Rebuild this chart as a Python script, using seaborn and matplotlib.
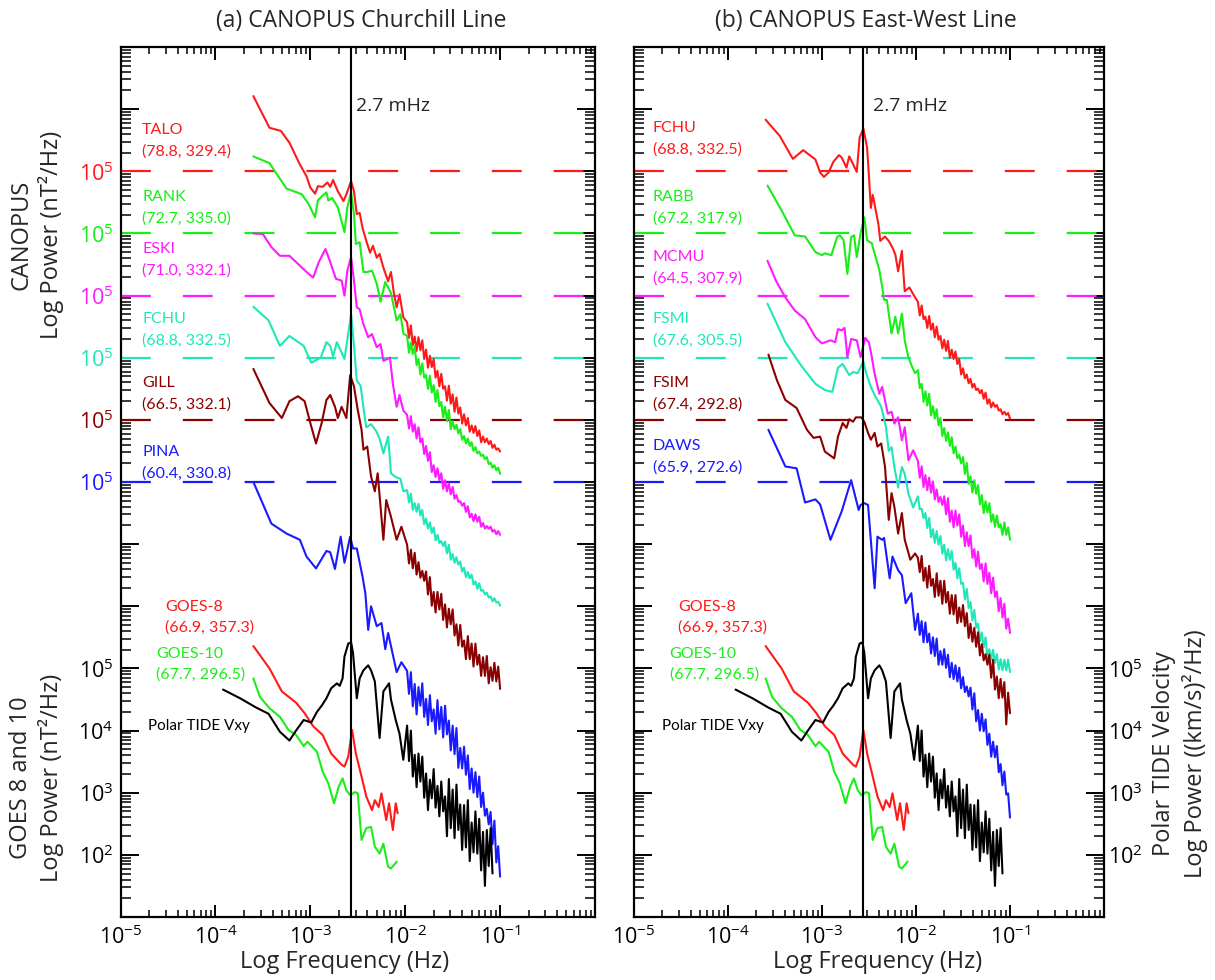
import numpy as np
import pandas as pd
import matplotlib
matplotlib.use('Agg')
import matplotlib.pyplot as plt
from matplotlib.ticker import LogLocator, NullFormatter
import seaborn as sns

# ---- data: log10 frequency (Hz) and log10 power ----
# shared high-frequency grid for the noisy tails
tail_lf = [-1.98, -1.96, -1.94, -1.92, -1.90, -1.88, -1.86, -1.84, -1.82, -1.80,
           -1.78, -1.76, -1.74, -1.72, -1.70, -1.68, -1.66, -1.64, -1.62, -1.60,
           -1.58, -1.56, -1.54, -1.52, -1.50, -1.48, -1.46, -1.44, -1.42, -1.40,
           -1.38, -1.36, -1.34, -1.32, -1.30, -1.28, -1.26, -1.24, -1.22, -1.20,
           -1.18, -1.16, -1.14, -1.12, -1.10, -1.08, -1.06, -1.04, -1.02, -1.00]

# (a) Churchill line
talo_lf = [-3.60, -3.43, -3.31, -3.22, -3.11, -3.04, -3.00, -2.95, -2.92, -2.87, -2.82, -2.79, -2.76, -2.71, -2.65, -2.62, -2.57,
           -2.54, -2.51, -2.48, -2.45, -2.41, -2.37, -2.34, -2.30, -2.27, -2.23, -2.18, -2.15, -2.12, -2.09, -2.06, -2.02]
talo_lp = [6.21, 5.70, 5.65, 5.46, 5.11, 4.92, 4.74, 4.64, 4.76, 4.75, 4.82, 4.75, 4.86, 4.68, 4.52, 4.63, 4.84,
           4.68, 4.31, 4.33, 4.09, 3.88, 3.69, 3.80, 3.61, 3.67, 3.45, 3.23, 3.38, 3.05, 2.81, 3.02, 2.65]
talo_tail = [2.57, 2.32, 2.52, 2.20, 2.34, 2.11, 2.33, 2.12, 2.28, 1.98, 2.13, 1.84, 2.03, 1.85, 1.98, 1.68, 1.79,
             1.54, 1.74, 1.50, 1.54, 1.31, 1.55, 1.26, 1.41, 1.13, 1.36, 1.10, 1.20, 0.94, 1.09, 0.91, 1.03,
             0.81, 0.91, 0.79, 0.90, 0.74, 0.83, 0.64, 0.73, 0.64, 0.70, 0.61, 0.66, 0.55, 0.60, 0.52, 0.54, 0.49]

rank_lf = [-3.60, -3.43, -3.25, -3.14, -3.09, -3.02, -2.95, -2.92, -2.87, -2.83, -2.81, -2.77, -2.71, -2.64, -2.61,
           -2.57, -2.54, -2.52, -2.48, -2.44, -2.40, -2.35, -2.30, -2.26, -2.21, -2.15, -2.09, -2.05, -2.02]
rank_lp = [6.24, 6.13, 5.72, 5.66, 5.63, 5.48, 5.26, 5.53, 5.61, 5.66, 5.53, 5.57, 5.42, 5.02, 5.42,
           5.66, 5.32, 4.83, 4.86, 4.38, 4.38, 4.40, 4.19, 3.90, 4.22, 4.04, 3.60, 3.70, 3.39]
rank_tail = [3.35, 3.08, 3.24, 3.06, 3.18, 2.88, 2.98, 2.73, 2.91, 2.68, 2.72, 2.50, 2.71, 2.44, 2.56, 2.29, 2.48,
             2.22, 2.29, 2.04, 2.21, 1.98, 2.16, 1.85, 1.98, 1.85, 1.92, 1.78, 1.85, 1.68, 1.74, 1.62, 1.70,
             1.58, 1.64, 1.50, 1.56, 1.46, 1.49, 1.42, 1.44, 1.37, 1.40, 1.29, 1.31, 1.23, 1.27, 1.19, 1.23, 1.13]

eski_lf = [-3.60, -3.50, -3.41, -3.32, -3.22, -3.13, -3.04, -2.97, -2.91, -2.84, -2.79, -2.73, -2.67, -2.64, -2.61,
           -2.57, -2.54, -2.51, -2.48, -2.44, -2.39, -2.35, -2.30, -2.26, -2.23, -2.16, -2.13, -2.09, -2.06, -2.02]
eski_lp = [6.00, 5.99, 5.78, 5.64, 5.64, 5.51, 5.38, 5.29, 5.54, 5.75, 5.54, 5.27, 5.24, 5.00, 5.40,
           5.62, 5.24, 4.81, 4.78, 4.54, 4.33, 4.38, 4.17, 4.22, 3.95, 4.00, 3.58, 3.21, 3.40, 3.15]
eski_tail = [3.08, 2.86, 3.06, 2.81, 2.93, 2.70, 2.88, 2.64, 2.70, 2.45, 2.58, 2.34, 2.48, 2.16, 2.27, 2.08, 2.22,
             2.03, 2.14, 1.89, 2.03, 1.85, 1.98, 1.80, 1.92, 1.73, 1.79, 1.68, 1.69, 1.62, 1.66, 1.52, 1.61,
             1.43, 1.49, 1.37, 1.48, 1.36, 1.44, 1.28, 1.34, 1.25, 1.29, 1.25, 1.28, 1.20, 1.23, 1.16, 1.21, 1.15]

fchu_a_lf = [-3.60, -3.44, -3.32, -3.22, -3.07, -2.99, -2.89, -2.83, -2.79, -2.76, -2.72, -2.64, -2.57, -2.54,
             -2.51, -2.47, -2.44, -2.41, -2.36, -2.31, -2.27, -2.23, -2.18, -2.15, -2.10, -2.05, -2.02]
fchu_a_lp = [5.82, 5.60, 5.19, 5.35, 5.19, 4.92, 5.00, 5.25, 5.19, 5.02, 5.25, 4.98, 5.70, 5.20,
             4.63, 4.55, 4.20, 3.88, 3.93, 3.83, 3.70, 3.46, 3.73, 3.14, 3.08, 3.05, 2.85]
fchu_a_tail = [2.87, 2.67, 2.81, 2.55, 2.66, 2.52, 2.65, 2.46, 2.55, 2.32, 2.41, 2.25, 2.35, 2.18, 2.27, 2.06, 2.15,
               2.02, 2.05, 1.97, 2.04, 1.85, 1.99, 1.75, 1.84, 1.70, 1.79, 1.67, 1.72, 1.56, 1.62, 1.47, 1.55,
               1.45, 1.51, 1.35, 1.40, 1.28, 1.37, 1.25, 1.26, 1.19, 1.22, 1.14, 1.16, 1.08, 1.13, 1.06, 1.07, 1.01]

gill_lf = [-3.60, -3.43, -3.30, -3.22, -3.13, -3.06, -3.00, -2.94, -2.88, -2.83, -2.79, -2.74, -2.71, -2.67, -2.62,
           -2.58, -2.54, -2.50, -2.46, -2.44, -2.40, -2.36, -2.32, -2.29, -2.23, -2.20, -2.15, -2.09, -2.04]
gill_lp = [5.82, 5.27, 5.03, 5.30, 5.38, 5.30, 4.95, 4.62, 4.95, 5.32, 5.40, 5.21, 5.03, 5.21, 5.03,
           5.72, 5.54, 5.16, 4.84, 4.52, 4.57, 4.09, 3.85, 4.14, 3.07, 3.71, 3.44, 3.07, 3.28]
gill_tail = [2.99, 2.69, 2.91, 2.61, 2.86, 2.51, 2.71, 2.46, 2.57, 2.41, 2.56, 2.19, 2.47, 2.01, 2.23, 1.90, 2.23,
             1.95, 2.20, 1.78, 2.03, 1.66, 1.96, 1.71, 1.95, 1.53, 1.71, 1.37, 1.70, 1.35, 1.45, 1.15, 1.52,
             1.15, 1.40, 1.03, 1.40, 1.06, 1.22, 0.88, 1.18, 0.88, 1.20, 0.76, 1.02, 0.80, 1.09, 0.79, 1.03, 0.67]

pina_lf = [-3.60, -3.41, -3.25, -3.11, -3.04, -2.94, -2.83, -2.79, -2.74, -2.68, -2.64, -2.58, -2.55, -2.51,
           -2.45, -2.42, -2.39, -2.36, -2.30, -2.25, -2.21, -2.18, -2.09, -2.04]
pina_lp = [5.00, 4.33, 4.17, 4.07, 3.80, 3.61, 3.89, 3.87, 3.60, 4.12, 3.70, 4.12, 3.93, 3.93,
           3.48, 3.21, 2.62, 3.00, 2.68, 2.73, 2.31, 2.57, 1.94, 2.10]
pina_tail = [1.96, 1.59, 1.94, 1.39, 1.75, 1.26, 1.70, 1.40, 1.76, 1.22, 1.51, 1.09, 1.57, 1.15, 1.34, 0.95, 1.49,
             1.02, 1.38, 0.89, 1.40, 0.94, 1.16, 0.68, 1.08, 0.62, 1.04, 0.40, 0.72, 0.39, 0.74, 0.29, 0.60,
             0.06, 0.39, 0.00, 0.33, -0.07, 0.26, -0.23, 0.00, -0.37, -0.26, -0.51, -0.31, -0.83, -0.45, -1.12, -0.86, -1.35]

# (b) East-West line
fchu_b_lf = [-3.60, -3.45, -3.31, -3.20, -3.07, -3.02, -2.98, -2.93, -2.88, -2.82, -2.79, -2.74, -2.71, -2.63, -2.60, -2.56,
             -2.52, -2.50, -2.48, -2.46, -2.40, -2.38, -2.33, -2.29, -2.25, -2.22, -2.19, -2.15, -2.12, -2.07, -2.01]
fchu_b_lp = [5.83, 5.57, 5.20, 5.34, 5.19, 4.98, 4.91, 4.98, 5.15, 5.26, 5.22, 5.06, 5.24, 4.99, 5.54, 5.69,
             5.38, 4.90, 4.41, 4.62, 4.15, 3.88, 3.95, 3.88, 3.77, 3.66, 3.39, 3.72, 3.07, 3.13, 2.97]
fchu_b_tail = [2.90, 2.68, 2.84, 2.62, 2.66, 2.48, 2.67, 2.45, 2.55, 2.33, 2.50, 2.29, 2.35, 2.15, 2.29, 2.11, 2.27,
               2.00, 2.13, 1.98, 2.10, 1.90, 1.98, 1.73, 1.83, 1.67, 1.73, 1.59, 1.66, 1.52, 1.58, 1.48, 1.50,
               1.43, 1.48, 1.34, 1.44, 1.26, 1.33, 1.20, 1.28, 1.21, 1.24, 1.15, 1.17, 1.09, 1.13, 1.08, 1.11, 1.02]

rabb_lf = [-3.58, -3.43, -3.29, -3.18, -3.07, -3.00, -2.97, -2.90, -2.84, -2.81, -2.77, -2.73, -2.69, -2.66, -2.63, -2.59, -2.55,
           -2.52, -2.47, -2.43, -2.39, -2.36, -2.34, -2.31, -2.29, -2.26, -2.22, -2.19, -2.15, -2.12, -2.08, -2.04, -2.01]
rabb_lp = [5.77, 5.37, 4.97, 4.95, 4.70, 4.65, 4.68, 4.65, 4.94, 4.97, 4.89, 4.35, 4.94, 4.97, 4.62, 5.00, 5.26,
           4.89, 4.84, 4.62, 4.41, 4.14, 3.93, 3.93, 3.71, 3.39, 3.66, 3.39, 3.71, 3.28, 3.00, 2.85, 2.75]
rabb_tail = [2.80, 2.51, 2.58, 2.29, 2.46, 2.23, 2.42, 2.07, 2.22, 2.02, 2.17, 1.91, 2.03, 1.74, 1.87, 1.66, 1.80,
             1.58, 1.72, 1.46, 1.57, 1.38, 1.44, 1.30, 1.40, 1.13, 1.31, 0.97, 1.09, 0.83, 1.03, 0.81, 0.95,
             0.64, 0.79, 0.50, 0.69, 0.51, 0.66, 0.36, 0.48, 0.28, 0.46, 0.27, 0.32, 0.15, 0.35, 0.15, 0.27, 0.07]

mcmu_lf = [-3.58, -3.49, -3.39, -3.29, -3.18, -3.07, -3.00, -2.91, -2.86, -2.83, -2.79, -2.76, -2.73, -2.69, -2.63,
           -2.59, -2.54, -2.50, -2.47, -2.44, -2.39, -2.36, -2.30, -2.26, -2.23, -2.19, -2.15, -2.12, -2.08, -2.03]
mcmu_lp = [5.56, 5.24, 4.97, 4.76, 4.62, 4.33, 4.23, 4.28, 4.25, 4.46, 4.44, 4.48, 4.01, 4.30, 4.28,
           4.01, 4.32, 4.24, 4.01, 3.74, 3.42, 3.53, 3.10, 3.13, 2.94, 3.04, 2.67, 2.88, 2.35, 2.51]
mcmu_tail = [2.34, 2.07, 2.25, 1.92, 2.11, 1.87, 2.07, 1.83, 2.01, 1.72, 1.88, 1.68, 1.76, 1.63, 1.77, 1.48, 1.74,
             1.36, 1.54, 1.27, 1.54, 1.30, 1.48, 1.12, 1.30, 0.97, 1.19, 0.97, 1.14, 0.78, 0.92, 0.64, 0.88,
             0.60, 0.68, 0.40, 0.69, 0.36, 0.54, 0.21, 0.46, 0.15, 0.24, -0.08, 0.13, -0.18, 0.04, -0.36, -0.20, -0.43]

fsmi_lf = [-3.58, -3.39, -3.22, -3.07, -2.97, -2.89, -2.83, -2.78, -2.71, -2.67, -2.62, -2.56, -2.53,
           -2.48, -2.43, -2.37, -2.32, -2.29, -2.26, -2.23, -2.19, -2.15, -2.12, -2.08, -2.03]
fsmi_lp = [5.87, 5.25, 4.87, 4.58, 4.48, 4.45, 4.84, 4.90, 4.72, 4.77, 4.75, 4.94, 4.75,
           4.53, 4.37, 4.21, 3.89, 3.50, 3.56, 3.24, 2.91, 3.24, 3.13, 2.81, 2.59]
fsmi_tail = [2.77, 2.56, 2.57, 2.42, 2.50, 2.26, 2.42, 2.11, 2.24, 2.02, 2.21, 1.99, 2.13, 1.85, 1.99, 1.74, 1.92,
             1.75, 1.89, 1.59, 1.70, 1.45, 1.61, 1.36, 1.38, 1.11, 1.28, 0.97, 1.07, 0.77, 0.94, 0.66, 0.72,
             0.44, 0.58, 0.34, 0.50, 0.18, 0.31, 0.14, 0.30, 0.09, 0.23, -0.02, 0.15, -0.03, 0.14, -0.03, 0.14, -0.06]

fsim_lf = [-3.57, -3.48, -3.39, -3.27, -3.16, -3.09, -3.02, -2.97, -2.87, -2.83, -2.78, -2.74, -2.71, -2.67, -2.64, -2.58,
           -2.55, -2.51, -2.48, -2.44, -2.41, -2.37, -2.33, -2.29, -2.26, -2.23, -2.19, -2.15, -2.12, -2.06, -2.01]
fsim_lp = [6.05, 5.64, 5.32, 5.19, 4.84, 4.71, 4.73, 4.49, 4.38, 4.73, 4.95, 4.87, 5.01, 4.97, 5.04, 5.04,
           4.97, 4.79, 4.68, 4.79, 4.57, 4.62, 4.25, 3.39, 3.82, 3.60, 3.17, 3.50, 3.07, 2.75, 2.85]
fsim_tail = [2.78, 2.55, 2.81, 2.41, 2.62, 2.30, 2.65, 2.33, 2.44, 2.15, 2.53, 2.17, 2.41, 2.04, 2.41, 2.06, 2.23,
             1.88, 2.18, 1.87, 2.18, 1.73, 1.98, 1.75, 2.02, 1.68, 1.89, 1.49, 1.72, 1.43, 1.65, 1.35, 1.58,
             1.21, 1.39, 1.13, 1.23, 1.06, 1.22, 0.85, 1.14, 0.66, 0.87, 0.52, 0.83, 0.53, 0.78, 0.10, 0.61, 0.28]

daws_lf = [-3.57, -3.39, -3.27, -3.18, -3.07, -3.02, -2.91, -2.79, -2.69, -2.61, -2.59, -2.55,
           -2.51, -2.44, -2.41, -2.36, -2.34, -2.28, -2.25, -2.19, -2.15, -2.11, -2.05, -2.01]
daws_lp = [5.84, 5.25, 5.22, 4.67, 4.72, 4.64, 4.07, 4.53, 5.03, 4.55, 4.63, 4.66,
           4.63, 3.29, 4.12, 4.07, 4.10, 3.45, 3.80, 3.58, 3.50, 3.05, 3.21, 2.62]
daws_tail = [2.88, 2.54, 2.76, 2.42, 2.74, 2.42, 2.56, 2.24, 2.50, 2.20, 2.48, 2.06, 2.28, 2.06, 2.31, 2.01, 2.22,
             1.86, 2.09, 1.83, 2.05, 1.79, 2.01, 1.68, 1.86, 1.62, 1.71, 1.55, 1.69, 1.34, 1.60, 1.15, 1.33,
             1.00, 1.27, 0.99, 1.18, 0.77, 0.95, 0.58, 0.82, 0.57, 0.75, 0.33, 0.46, 0.12, 0.34, -0.03, -0.01, -0.40]

# GOES and Polar (same spectra in both panels)
goes8_lf = [-3.60, -3.43, -3.30, -3.15, -3.06, -2.97, -2.87, -2.78, -2.67, -2.64, -2.60, -2.56,
            -2.52, -2.46, -2.41, -2.35, -2.32, -2.28, -2.25, -2.20, -2.17, -2.13, -2.10, -2.08]
goes8_lp = [5.36, 5.00, 4.63, 4.45, 4.28, 4.07, 3.93, 3.63, 3.45, 3.42, 3.58, 4.01,
            3.63, 3.26, 2.94, 2.72, 2.88, 2.77, 2.99, 2.56, 2.83, 2.40, 2.83, 2.67]
goes10_lf = [-3.60, -3.53, -3.43, -3.32, -3.23, -3.15, -3.07, -3.03, -2.93, -2.87, -2.81, -2.75, -2.70, -2.66,
             -2.62, -2.58, -2.53, -2.50, -2.46, -2.41, -2.36, -2.32, -2.27, -2.23, -2.18, -2.15, -2.09]
goes10_lp = [4.84, 4.54, 4.36, 4.22, 4.01, 3.93, 3.75, 3.82, 3.66, 3.34, 3.15, 2.83, 3.10, 3.23,
             3.04, 2.96, 3.01, 2.99, 2.24, 2.43, 2.45, 2.13, 2.02, 2.18, 1.81, 1.78, 1.89]
polar_lf = [-3.92, -3.74, -3.57, -3.44, -3.32, -3.22, -3.15, -3.07, -2.99, -2.93, -2.88, -2.83, -2.78, -2.72, -2.69, -2.66, -2.64,
            -2.60, -2.57, -2.55, -2.51, -2.48, -2.44, -2.39, -2.36, -2.32, -2.27, -2.23, -2.17, -2.15, -2.10, -2.06, -2.02]
polar_lp = [4.66, 4.52, 4.37, 4.27, 3.98, 3.84, 4.00, 4.17, 4.13, 4.30, 4.40, 4.52, 4.68, 4.76, 4.72, 4.84, 5.19,
            5.40, 5.42, 5.25, 4.52, 4.84, 4.97, 5.05, 4.97, 4.79, 3.88, 4.63, 4.76, 4.50, 4.17, 3.95, 3.53]
polar_tail = [4.08, 3.51, 4.00, 3.26, 3.61, 3.09, 3.63, 3.18, 3.58, 2.92, 3.31, 2.72, 3.21, 2.91, 3.38, 2.76, 3.11,
              2.62, 3.18, 2.70, 2.94, 2.30, 3.22, 2.43, 3.05, 2.27, 3.13, 2.40, 2.81, 2.08, 2.80, 2.12, 2.88,
              1.90, 2.52, 2.04, 2.70, 2.02, 2.58, 1.75, 2.37, 1.50, 2.40, 1.82, 2.43, 1.70]

churchill_names = ['TALO', 'RANK', 'ESKI', 'FCHU', 'GILL', 'PINA']
churchill_coords = ['(78.8, 329.4)', '(72.7, 335.0)', '(71.0, 332.1)', '(68.8, 332.5)', '(66.5, 332.1)', '(60.4, 330.8)']
eastwest_names = ['FCHU', 'RABB', 'MCMU', 'FSMI', 'FSIM', 'DAWS']
eastwest_coords = ['(68.8, 332.5)', '(67.2, 317.9)', '(64.5, 307.9)', '(67.6, 305.5)', '(67.4, 292.8)', '(65.9, 272.6)']
goes_names = ['GOES-8', 'GOES-10']
goes_coords = ['(66.9, 357.3)', '(67.7, 296.5)']
station_colors = ['#ff1a1a', '#1aee1a', '#ff1aff', '#1ee8b8', '#8b0000', '#1a1aff']
ref_decades = [13, 12, 11, 10, 9, 8]   # where each station's 10^5 line sits
f_marker = 2.7e-3

churchill = [(talo_lf, talo_lp, talo_tail), (rank_lf, rank_lp, rank_tail), (eski_lf, eski_lp, eski_tail),
             (fchu_a_lf, fchu_a_lp, fchu_a_tail), (gill_lf, gill_lp, gill_tail), (pina_lf, pina_lp, pina_tail)]
eastwest = [(fchu_b_lf, fchu_b_lp, fchu_b_tail), (rabb_lf, rabb_lp, rabb_tail), (mcmu_lf, mcmu_lp, mcmu_tail),
            (fsmi_lf, fsmi_lp, fsmi_tail), (fsim_lf, fsim_lp, fsim_tail), (daws_lf, daws_lp, daws_tail)]

# ---- style ----
sns.set_theme(style='ticks')
plt.rcParams['font.family'] = ['Open Sans', 'DejaVu Sans']
plt.rcParams['lines.scale_dashes'] = False
label_font = ['Lato', 'DejaVu Sans']

W, H = 1215, 980
fig = plt.figure(figsize=(W / 100, H / 100), dpi=100)
ax1 = fig.add_axes([120.5 / W, 63 / H, 474.5 / W, 870 / H])
ax2 = fig.add_axes([634 / W, 63 / H, 470 / W, 870 / H])


def draw(ax, lf, lp, color, shift=0.0):
    df = pd.DataFrame({'f': 10.0 ** np.array(lf), 'p': 10.0 ** (np.array(lp) + shift)})
    sns.lineplot(data=df, x='f', y='p', ax=ax, color=color, lw=1.5,
                 estimator=None, sort=False, legend=False, zorder=2)


def sup(s):
    return r'$\mathregular{10^{' + s + '}}$'


for ax, stations in [(ax1, churchill), (ax2, eastwest)]:
    ax.set_xscale('log')
    ax.set_yscale('log')
    ax.set_xlim(1e-5, 1)
    ax.set_ylim(1e1, 1e15)

    for (lf, lp, tail), col, d in zip(stations, station_colors, ref_decades):
        ax.axhline(10.0 ** d, color=col, lw=1.6, dashes=(21.5, 23), zorder=1)
        draw(ax, lf + tail_lf[:len(tail)], lp + tail, col, shift=d - 5)

    draw(ax, goes8_lf, goes8_lp, station_colors[0])
    draw(ax, goes10_lf, goes10_lp, station_colors[1])
    draw(ax, polar_lf + tail_lf[:len(polar_tail)], polar_lp + polar_tail, 'black')

    ax.axvline(f_marker, color='black', lw=1.5, zorder=4)
    ax.set_xlabel('')
    ax.set_ylabel('')

    # ticks
    ax.set_xticks([10.0 ** k for k in range(-5, 1)])
    ax.set_xticklabels([sup(str(k)) for k in range(-5, 0)] + [''])
    ax.xaxis.set_minor_locator(LogLocator(base=10, subs=np.arange(2, 10), numticks=100))
    ax.xaxis.set_minor_formatter(NullFormatter())
    ax.set_yticks([10.0 ** k for k in range(1, 16)])
    ax.yaxis.set_minor_locator(LogLocator(base=10, subs=np.arange(2, 10), numticks=100))
    ax.yaxis.set_minor_formatter(NullFormatter())
    ax.tick_params(axis='both', which='both', direction='in', top=True, right=True,
                   labelsize=15.5, colors='black')
    ax.tick_params(axis='y', which='major', length=13, width=1.4, pad=5)
    ax.tick_params(axis='y', which='minor', length=7, width=1.1)
    ax.tick_params(axis='x', which='major', length=9, width=1.4, pad=6)
    ax.tick_params(axis='x', which='minor', length=5, width=1.1)
    for sp in ax.spines.values():
        sp.set_linewidth(1.6)
        sp.set_color('black')

# y tick labels
left_labels = []
for k in range(1, 16):
    if 2 <= k <= 5:
        left_labels.append(sup(str(k)))
    elif k in ref_decades:
        left_labels.append(sup('5'))
    else:
        left_labels.append('')
ax1.set_yticklabels(left_labels)
for lab, k in zip(ax1.get_yticklabels(), range(1, 16)):
    if k in ref_decades:
        lab.set_color(station_colors[ref_decades.index(k)])
ax2.set_yticklabels([sup(str(k)) if 2 <= k <= 5 else '' for k in range(1, 16)])
ax2.tick_params(axis='y', labelleft=False, labelright=True, pad=3)


# ---- text ----
def px(x, y, s, **kw):
    # place text by figure pixel position
    fig.text(x / W, 1 - y / H, s, **kw)


name_y_a = [130, 197, 249, 319, 383, 452]
name_y_b = [128, 197, 257, 319, 383, 446]
for i in range(6):
    px(142, name_y_a[i], churchill_names[i], color=station_colors[i], fontsize=11.5, family=label_font, va='center')
    px(142, name_y_a[i] + 21.5, churchill_coords[i], color=station_colors[i], fontsize=11.5,
       family=label_font, va='center')
    px(652.5, name_y_b[i], eastwest_names[i], color=station_colors[i], fontsize=11.5, family=label_font, va='center')
    px(652.5, name_y_b[i] + 21.5, eastwest_coords[i], color=station_colors[i], fontsize=11.5,
       family=label_font, va='center')

for x0 in [120.5, 634]:
    px(x0 + 44.5, 607, goes_names[0], color=station_colors[0], fontsize=11.5, family=label_font, va='center')
    px(x0 + 44.5, 628, goes_coords[0], color=station_colors[0], fontsize=11.5, family=label_font, va='center')
    px(x0 + 35.5, 654, goes_names[1], color=station_colors[1], fontsize=11.5, family=label_font, va='center')
    px(x0 + 35.5, 675, goes_coords[1], color=station_colors[1], fontsize=11.5, family=label_font, va='center')
    px(x0 + 28, 726, 'Polar TIDE Vxy', color='black', fontsize=11, family=label_font, va='center')

px(356, 106, '2.7 mHz', fontsize=14, va='center')
px(873, 106, '2.7 mHz', fontsize=14, va='center')

px(361, 21, '(a) CANOPUS Churchill Line', fontsize=16.5, ha='center', va='center')
px(866, 21, '(b) CANOPUS East-West Line', fontsize=16.5, ha='center', va='center')
px(345, 962, 'Log Frequency (Hz)', fontsize=17, ha='center', va='center')
px(878, 962, 'Log Frequency (Hz)', fontsize=17, ha='center', va='center')

px(37, 235, 'CANOPUS\nLog Power (nT²/Hz)', fontsize=17, rotation=90,
   ha='center', va='center', multialignment='center', linespacing=1.25)
px(37, 778, 'GOES 8 and 10\nLog Power (nT²/Hz)', fontsize=17, rotation=90,
   ha='center', va='center', multialignment='center', linespacing=1.25)
px(1180, 754, 'Polar TIDE Velocity\nLog Power ((km/s)²/Hz)', fontsize=17, rotation=90,
   ha='center', va='center', multialignment='center', linespacing=1.25)

fig.savefig('out.png', dpi=100)
